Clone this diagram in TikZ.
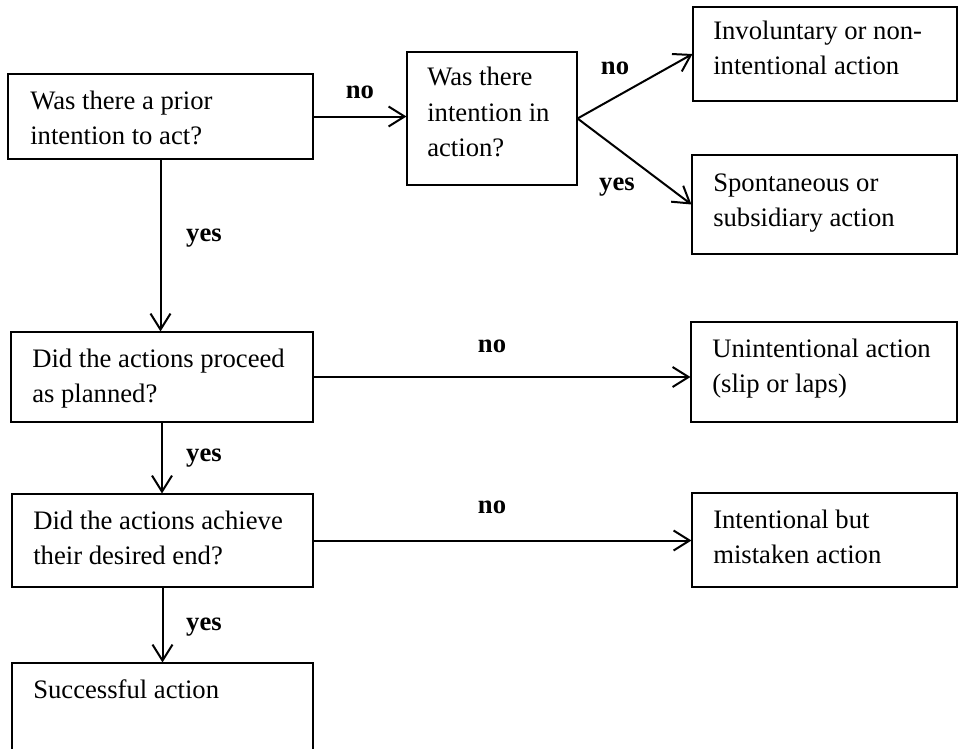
\documentclass[tikz,border=0pt]{standalone}
\usepackage{fontspec}
\setmainfont{Liberation Serif}
\usetikzlibrary{arrows.meta,calc,fit}
\begin{document}
\begin{tikzpicture}[x=0.75pt,y=-0.75pt,
  box/.style={draw=black, line width=0.8pt, rectangle, inner sep=0pt},
  txt/.style={anchor=base west, inner sep=0pt, text width=240pt, font=\fontsize{20}{26.25}\selectfont,
    execute at begin node={\spaceskip=0.25em plus 0.1em minus 0.05em\relax}},
  lbl/.style={inner sep=0pt, font=\fontsize{20}{24}\selectfont\bfseries},
  conn/.style={line width=1.5pt, -{Straight Barb[length=12pt,width=15pt]}}]
\useasboundingbox (0,0) rectangle (960,749);
\fill[white] (0,0) rectangle (960,749);

% boxes
\node[box, fit={(8,74) (313,159)}] (b1) {};
\node[box, fit={(407,52) (577,185)}] (b2) {};
\node[box, fit={(693,7) (957,101)}] (b3) {};
\node[box, fit={(692,155) (957,254)}] (b4) {};
\node[box, fit={(11,332) (313,422)}] (b5) {};
\node[box, fit={(691,322) (957,422)}] (b6) {};
\node[box, fit={(12,494) (313,587)}] (b7) {};
\node[box, fit={(692,493) (957,587)}] (b8) {};
\node[box, fit={(12,663) (313,790)}] (b9) {};

% texts
\node[txt] (t1) at (30,109) {Was there a prior\\intention to act?};
\node[txt] (t2) at (427,86) {Was there\\intention in\\action?};
\node[txt] (t3) at (713,40) {Involuntary or non-\\intentional action};
\node[txt] (t4) at (713,191) {Spontaneous or\\subsidiary action};
\node[txt] (t5) at (32,367) {Did the actions proceed\\as planned?};
\node[txt] (t6) at (712,357) {Unintentional action\\(slip or laps)};
\node[txt] (t7) at (33,529) {Did the actions achieve\\their desired end?};
\node[txt] (t8) at (713,528) {Intentional but\\mistaken action};
\node[txt] (t9) at (33,698) {Successful action};

% connectors
\draw[conn] (b1.south) -- (b1.south |- b5.north);
\draw[conn] (b1.east) -- (b1.east -| b2.west);
\draw[conn] (b2.east) -- (b3.west);
\draw[conn] (b2.east) -- (b4.west);
\draw[conn] (b5.east) -- (b5.east -| b6.west);
\draw[conn] (b5.south) -- (b5.south |- b7.north);
\draw[conn] (b7.east) -- (b7.east -| b8.west);
\draw[conn] (b7.south) -- (b7.south |- b9.north);

% labels
\node[lbl] (n1) at (360,92) {no};
\node[lbl] (y1) at (204,238) {yes};
\node[lbl] (n2) at (615,68) {no};
\node[lbl] (y2) at (617,187) {yes};
\node[lbl] (n3) at (492,346) {no};
\node[lbl] (y3) at (204,458) {yes};
\node[lbl] (n4) at (492,507) {no};
\node[lbl] (y4) at (204,627) {yes};
\end{tikzpicture}
\end{document}
